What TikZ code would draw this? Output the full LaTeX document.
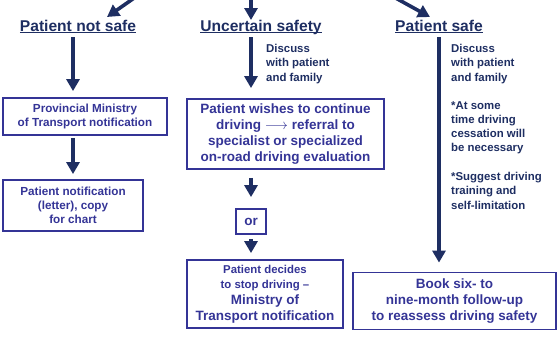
\documentclass[tikz,border=0pt]{standalone}
\usepackage{fontspec}
\setmainfont{Liberation Sans}
\usetikzlibrary{arrows.meta}
\definecolor{navy}{RGB}{30,46,98}
\definecolor{boxblue}{RGB}{52,52,150}
\newcommand{\smallline}{\fontsize{11.4}{14}\selectfont}

\begin{document}
\begin{tikzpicture}[x=1pt,y=-1pt,
    box/.style={draw=boxblue,line width=1.8pt,text=boxblue,align=center,inner sep=0pt,
      font=\bfseries\fontsize{11.7}{14}\selectfont},
    big/.style={font=\bfseries\fontsize{13.5}{15.7}\selectfont},
    arr/.style={draw=navy,line width=3.6pt,-{Triangle[width=13pt,length=12pt]}},
    head/.style={text=navy,anchor=base,inner sep=2pt,font=\bfseries\fontsize{15.6}{17}\selectfont},
    note/.style={text=navy,align=left,anchor=north west,inner sep=0pt,
      font=\bfseries\fontsize{11.4}{14.3}\selectfont}]
  \useasboundingbox (0,0) rectangle (557,338);

  % headings
  \node[head] (nosafe) at (78,31) {\underline{\smash{Patient not safe}}};
  \node[head] (unsure) at (261,31) {\underline{\smash{Uncertain safety}}};
  \node[head] (safe) at (439,31) {\underline{\smash{Patient safe}}};

  % boxes
  \node[box,minimum width=164pt,minimum height=37pt] (ministry) at (85,116.5)
    {Provincial Ministry\\of Transport notification};
  \node[box,minimum width=140pt,minimum height=51pt] (letter) at (73,205.5)
    {Patient notification\\(letter), copy\\for chart};
  \node[box,big,minimum width=197pt,minimum height=70pt] (wishes) at (285.5,134)
    {Patient wishes to continue\\driving $\longrightarrow$ referral to\\specialist or specialized\\on-road driving evaluation};
  \node[box,big,minimum width=30pt,minimum height=25pt] (or) at (251,221.5) {or};
  \node[box,big,minimum width=156pt,minimum height=68pt] (stop) at (265,294)
    {{\smallline Patient decides}\\{\smallline to stop driving –}\\Ministry of\\Transport notification};
  \node[box,big,minimum width=203pt,minimum height=57pt] (followup) at (454.5,301)
    {Book six- to\\nine-month follow-up\\to reassess driving safety};

  % notes
  \node[note] (discM) at (266,44) {Discuss\\with patient\\and family};
  \node[note] (discR) at (451,44) {Discuss\\with patient\\and family};
  \node[note] (atsome) at (451,101) {*At some\\time driving\\cessation will\\be necessary};
  \node[note] (suggest) at (451,172) {*Suggest driving\\training and\\self-limitation};

  % arrows from above
  \coordinate (inL) at (137,-4); \coordinate (tipL) at (107,17);
  \coordinate (inM) at (251,-4); \coordinate (tipM) at (251,20);
  \coordinate (inR) at (392,-4); \coordinate (tipR) at (430,17);
  \draw[arr] (inL) -- (tipL);
  \draw[arr] (inM) -- (tipM);
  \draw[arr] (inR) -- (tipR);

  % left column
  \draw[arr,shorten <=2pt,shorten >=6pt] (letter.north |- nosafe.south) -- (letter.north |- ministry.north);
  \draw[arr,shorten <=2pt,shorten >=5pt] (letter.north |- ministry.south) -- (letter.north);

  % middle column
  \draw[arr,shorten <=2pt,shorten >=10pt] (or.north |- unsure.south) -- (or.north |- wishes.north);
  \draw[arr,shorten <=8pt,shorten >=11pt] (or.north |- wishes.south) -- (or.north);
  \draw[arr,shorten <=4pt,shorten >=6pt] (or.south) -- (or.south |- stop.north);

  % right column
  \draw[arr,shorten <=2pt,shorten >=9pt] (safe.south) -- (safe.south |- followup.north);
\end{tikzpicture}
\end{document}
